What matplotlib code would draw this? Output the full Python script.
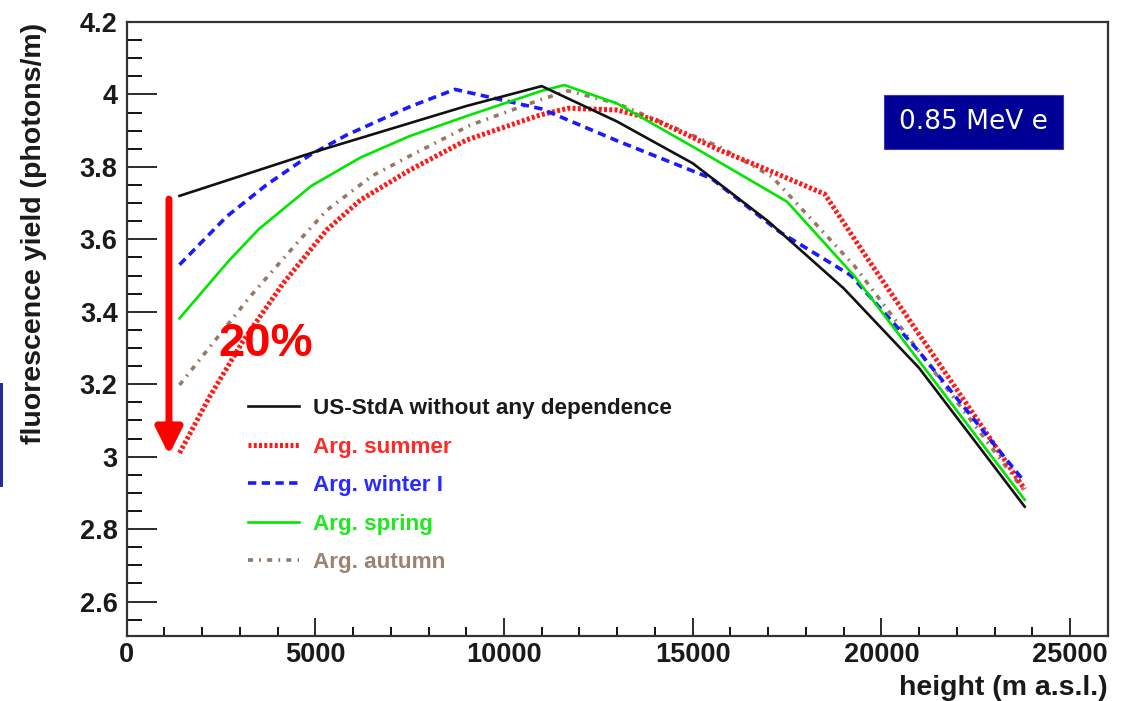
import matplotlib
matplotlib.use("Agg")
import matplotlib.pyplot as plt
from matplotlib.ticker import MultipleLocator
from matplotlib.patches import Rectangle

plt.rcParams['font.family'] = ['Liberation Sans', 'DejaVu Sans']

# ---- data ----
h_std = [1400, 5000, 9000, 11000, 13000, 15000, 17000, 19000, 21000, 22500, 23800]
y_std = [3.72, 3.842, 3.968, 4.023, 3.925, 3.81, 3.65, 3.465, 3.245, 3.04, 2.862]

h_sum = [1400, 2200, 3100, 4150, 5300, 6200, 7500, 9000, 10950, 11700, 13000, 14000,
         15700, 16800, 18500, 19600, 23800]
y_sum = [3.01, 3.166, 3.322, 3.479, 3.626, 3.709, 3.791, 3.874, 3.943, 3.962, 3.957, 3.93,
         3.847, 3.80, 3.725, 3.552, 2.91]

h_win = [1400, 2650, 3700, 4860, 5830, 7500, 8700, 11000, 13000, 15500, 17300, 19200, 21000, 23800]
y_win = [3.53, 3.663, 3.75, 3.833, 3.888, 3.966, 4.014, 3.96, 3.872, 3.768, 3.621, 3.50, 3.29, 2.93]

h_spr = [1400, 2700, 3500, 4900, 6200, 7500, 9000, 11000, 11600, 13000, 15300, 17500, 19300, 23800]
y_spr = [3.382, 3.54, 3.628, 3.748, 3.826, 3.885, 3.94, 4.01, 4.026, 3.975, 3.838, 3.704, 3.497, 2.881]

h_aut = [1400, 3270, 4600, 5300, 6500, 7500, 9100, 10950, 11700, 13000, 15700, 17100, 18000, 19300, 23800]
y_aut = [3.198, 3.442, 3.60, 3.68, 3.775, 3.83, 3.915, 3.985, 4.01, 3.975, 3.856, 3.773, 3.672, 3.525, 2.904]

labels = ["US-StdA without any dependence", "Arg. summer", "Arg. winter I",
          "Arg. spring", "Arg. autumn"]
x_ticks = [0, 5000, 10000, 15000, 20000, 25000]
y_ticks = [2.6, 2.8, 3.0, 3.2, 3.4, 3.6, 3.8, 4.0, 4.2]
y_ticklabels = ["2.6", "2.8", "3", "3.2", "3.4", "3.6", "3.8", "4", "4.2"]

W, H = 1126, 701
fig = plt.figure(figsize=(W / 100, H / 100), dpi=100)
ax = fig.add_axes([126.7 / W, 1 - 636 / H, (1107.7 - 126.7) / W, (636 - 22) / H])

c_black = '#111111'
c_red = '#ff1a1a'
c_blue = '#1a1aff'
c_green = '#00e600'
c_brown = '#947868'

ax.plot(h_aut, y_aut, color=c_brown, lw=2.6, linestyle=(0, (1.4, 1.7, 0.5, 1.7)), label=labels[4])
ax.plot(h_sum, y_sum, color=c_red, lw=3.6, linestyle=(0, (0.6, 0.45)), label=labels[1])
ax.plot(h_win, y_win, color=c_blue, lw=2.6, linestyle=(0, (2.3, 1.5)), label=labels[2])
ax.plot(h_spr, y_spr, color=c_green, lw=1.9, label=labels[3])
ax.plot(h_std, y_std, color=c_black, lw=1.9, label=labels[0])

ax.set_xlim(0, 26000)
ax.set_ylim(2.505, 4.2)

ax.set_xticks(x_ticks)
ax.set_xticklabels([str(v) for v in x_ticks])
ax.set_yticks(y_ticks)
ax.set_yticklabels(y_ticklabels)
ax.xaxis.set_minor_locator(MultipleLocator(1000))
ax.yaxis.set_minor_locator(MultipleLocator(0.05))

ax.tick_params(axis='y', which='major', direction='in', length=21.5, width=1.3,
               pad=6.5, labelsize=19.5, colors='#1a1a1a', right=False)
ax.tick_params(axis='y', which='minor', direction='in', length=10.8, width=1.3, right=False)
ax.tick_params(axis='x', which='major', direction='in', length=13, width=1.3,
               pad=4.5, labelsize=19.5, colors='#1a1a1a', top=False)
ax.tick_params(axis='x', which='minor', direction='in', length=6.5, width=1.3, top=False)
for lab in ax.get_xticklabels() + ax.get_yticklabels():
    lab.set_fontweight('bold')

for s in ax.spines.values():
    s.set_linewidth(1.6)
    s.set_color('#333333')

ax.set_xlabel("height (m a.s.l.)", fontsize=20.5, fontweight='bold', loc='right', color='#1a1a1a')
ax.xaxis.set_label_coords(1.0, -0.064)
ax.set_ylabel("fluorescence yield (photons/m)", fontsize=20.5, fontweight='bold', loc='top',
              color='#1a1a1a')
ax.yaxis.set_label_coords(-0.081, 0.998)

# legend
handles, labs = ax.get_legend_handles_labels()
order = [labs.index(l) for l in labels]
leg = ax.legend([handles[i] for i in order], [labs[i] for i in order],
                loc='upper left', bbox_to_anchor=(248 / W, 1 - 398 / H),
                bbox_transform=fig.transFigure, frameon=False, borderpad=0,
                borderaxespad=0, handlelength=2.25, handletextpad=0.63,
                labelspacing=0.78, prop={'size': 16.2, 'weight': 'bold'})
text_colors = ['#1a1a1a', '#ff2a2a', '#2a2aff', '#1fe81f', '#9c8273']
for t, c in zip(leg.get_texts(), text_colors):
    t.set_color(c)

# red arrow and 20%
ax.annotate("", xy=(1120, 3.005), xytext=(1120, 3.711),
            arrowprops=dict(arrowstyle='-|>,head_length=1.6,head_width=0.8',
                            color='#ff0000', lw=5, shrinkA=0, shrinkB=0,
                            mutation_scale=10))
fig.text(265.5 / W, 1 - 344 / H, "20%", color='#ff0000', fontsize=34,
         fontweight='bold', ha='center', va='center')

# energy box
fig.patches.append(Rectangle((884 / W, 1 - 149 / H), (1063 - 884) / W, (149 - 95) / H,
                             transform=fig.transFigure, facecolor='#000096',
                             edgecolor='#3a3ab0', lw=0.8))
fig.text(973 / W, 1 - 122 / H, "0.85 MeV e", color='white', fontsize=19,
         family='DejaVu Sans', ha='center', va='center')

# slide remnant at far left
fig.patches.append(Rectangle((0, 1 - 487 / H), 3 / W, 104 / H, transform=fig.transFigure,
                             facecolor='#2a2aa0', edgecolor='none'))

fig.savefig("out.png", dpi=100)
